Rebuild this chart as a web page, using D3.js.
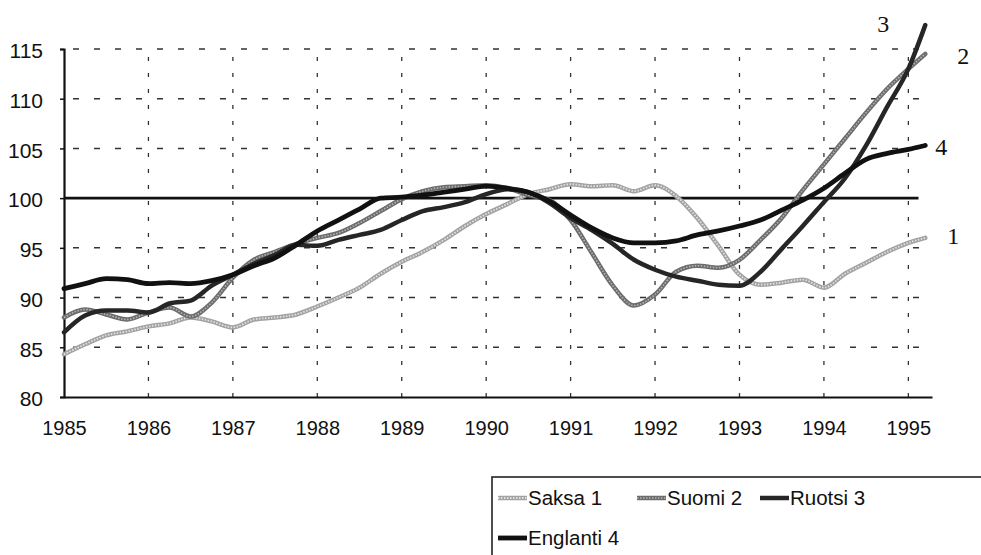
<!DOCTYPE html>
<html>
<head>
<meta charset="utf-8">
<script src="https://cdn.jsdelivr.net/npm/d3@7"></script>
<style>
  html, body { margin: 0; padding: 0; background: #fff; }
  svg { display: block; }
  .tick-label { font-family: "Liberation Sans", Arial, sans-serif; font-size: 20px; fill: #111; }
  .legend-text { font-family: "Liberation Sans", Arial, sans-serif; font-size: 20.5px; fill: #111; }
  .end-label { font-family: "Liberation Serif", "Times New Roman", serif; font-size: 24px; fill: #111; }
</style>
</head>
<body>
<div id="container"></div>
<script>
// quarterly time points (decimal years), last point is the final reading
const times = [1985.0, 1985.25, 1985.5, 1985.75, 1986.0, 1986.25, 1986.5, 1986.75,
  1987.0, 1987.25, 1987.5, 1987.75, 1988.0, 1988.25, 1988.5, 1988.75,
  1989.0, 1989.25, 1989.5, 1989.75, 1990.0, 1990.25, 1990.5, 1990.75,
  1991.0, 1991.25, 1991.5, 1991.75, 1992.0, 1992.25, 1992.5, 1992.75,
  1993.0, 1993.25, 1993.5, 1993.75, 1994.0, 1994.25, 1994.5, 1994.75,
  1995.0, 1995.2];

const saksa = [84.3, 85.3, 86.2, 86.6, 87.1, 87.4, 88.0, 87.6,
  87.0, 87.8, 88.0, 88.3, 89.1, 90.0, 91.0, 92.4,
  93.6, 94.6, 95.8, 97.2, 98.4, 99.4, 100.4, 100.9,
  101.4, 101.2, 101.3, 100.7, 101.3, 100.2, 98.0, 95.2,
  92.3, 91.3, 91.5, 91.8, 91.0, 92.4, 93.5, 94.6,
  95.5, 96.0];

const suomi = [88.0, 88.8, 88.3, 87.8, 88.5, 89.0, 88.1, 89.5,
  92.0, 93.8, 94.6, 95.4, 96.0, 96.5, 97.5, 98.7,
  99.9, 100.7, 101.1, 101.2, 101.3, 101.0, 100.3, 99.8,
  97.8, 94.5, 91.2, 89.2, 90.3, 92.6, 93.2, 93.0,
  93.8, 95.8, 98.0, 100.8, 103.4, 106.0, 108.6, 111.0,
  113.0, 114.5];

const ruotsi = [86.5, 88.2, 88.7, 88.7, 88.5, 89.4, 89.7, 91.2,
  92.3, 93.4, 94.3, 95.3, 95.2, 95.8, 96.3, 96.8,
  97.8, 98.7, 99.1, 99.6, 100.4, 100.9, 100.6, 99.5,
  98.0, 96.8, 95.4, 93.8, 92.8, 92.1, 91.7, 91.3,
  91.2, 92.6, 94.9, 97.2, 99.6, 102.0, 105.3, 109.2,
  113.0, 117.4];

const englanti = [90.9, 91.4, 91.9, 91.8, 91.4, 91.5, 91.4, 91.7,
  92.3, 93.2, 94.0, 95.3, 96.7, 97.8, 98.9, 100.0,
  100.1, 100.3, 100.6, 100.9, 101.2, 101.0, 100.6, 99.7,
  98.3, 97.0, 96.0, 95.5, 95.5, 95.7, 96.3, 96.7,
  97.2, 97.8, 98.8, 99.8, 101.0, 102.5, 103.9, 104.5,
  104.9, 105.3];

const yearTicks = [1985, 1986, 1987, 1988, 1989, 1990, 1991, 1992, 1993, 1994, 1995];
const valueTicks = [80, 85, 90, 95, 100, 105, 110, 115];
const seriesNames = ['Saksa 1', 'Suomi 2', 'Ruotsi 3', 'Englanti 4'];
const endLabels = ['1', '2', '3', '4'];

const width = 981, height = 555;
const svg = d3.select('#container').append('svg')
  .attr('width', width)
  .attr('height', height);

const x = d3.scaleLinear().domain([1985, 1995.28]).range([64, 932]);
const y = d3.scaleLinear().domain([80, 115]).range([397, 49]);

// dashed grid
svg.append('g')
  .selectAll('line')
  .data(valueTicks.filter(v => v !== 80 && v !== 100))
  .enter().append('line')
  .attr('x1', x(1985)).attr('x2', x(1995.28))
  .attr('y1', d => y(d)).attr('y2', d => y(d))
  .attr('stroke', '#333').attr('stroke-width', 1.5)
  .attr('stroke-dasharray', '6,15')
  .attr('stroke-dashoffset', -9);

svg.append('g')
  .selectAll('line')
  .data(yearTicks.slice(1))
  .enter().append('line')
  .attr('x1', d => x(d)).attr('x2', d => x(d))
  .attr('y1', y(115)).attr('y2', y(80))
  .attr('stroke', '#333').attr('stroke-width', 1.3)
  .attr('stroke-dasharray', '4,12')
  .attr('stroke-dashoffset', -8);

// axes
const xAxis = d3.axisBottom(x).tickValues(yearTicks).tickFormat(d3.format('d')).tickSize(0).tickPadding(23);
const yAxis = d3.axisLeft(y).tickValues(valueTicks).tickSize(4).tickPadding(17);

const gx = svg.append('g').attr('transform', `translate(0,${y(80)})`).call(xAxis);
gx.select('.domain').attr('stroke', '#111').attr('stroke-width', 2.2);
gx.selectAll('text').attr('class', 'tick-label').attr('dy', '0.75em');

const gy = svg.append('g').attr('transform', `translate(${x(1985)},0)`).call(yAxis);
gy.select('.domain').attr('stroke', '#111').attr('stroke-width', 2.2);
gy.selectAll('.tick line').attr('stroke', '#111').attr('stroke-width', 1.5);
gy.selectAll('text').attr('class', 'tick-label').attr('dy', '0.42em').attr('text-anchor', 'end');
gx.selectAll('.tick-label').style('font-family', '"Liberation Sans", Arial, sans-serif').style('font-size', '20px');
gy.selectAll('.tick-label').style('font-family', '"Liberation Sans", Arial, sans-serif').style('font-size', '21px');

// reference line at 100
svg.append('line')
  .attr('x1', x(1985)).attr('x2', x(1995.12))
  .attr('y1', y(100)).attr('y2', y(100))
  .attr('stroke', '#111').attr('stroke-width', 2.6);

// series: textured greys for 1 and 2, near-black for 3 and 4
const styles = [
  { base: '#a2a2a2', over: '#e2e2e2', w: 4.5, ow: 1.8, texture: true },
  { base: '#6c6c6c', over: '#b4b4b4', w: 4.5, ow: 1.6, texture: true },
  { base: '#262626', over: null, w: 4.5, texture: false },
  { base: '#111', over: null, w: 4.8, texture: false }
];
const seriesValues = [saksa, suomi, ruotsi, englanti];
const endOffsets = [[22, 6], [32, 10], [-48, 7], [10, 10]];

const line = d3.line()
  .x(d => x(d[0]))
  .y(d => y(d[1]))
  .curve(d3.curveMonotoneX);

const gLines = svg.append('g');
seriesValues.forEach((vals, i) => {
  const pts = times.map((t, k) => [t, vals[k]]);
  const st = styles[i];
  gLines.append('path')
    .attr('d', line(pts))
    .attr('fill', 'none')
    .attr('stroke', st.base)
    .attr('stroke-width', st.w)
    .attr('stroke-linejoin', 'round')
    .attr('stroke-linecap', 'round');
  if (st.texture) {
    gLines.append('path')
      .attr('d', line(pts))
      .attr('fill', 'none')
      .attr('stroke', st.over)
      .attr('stroke-width', st.ow)
      .attr('stroke-dasharray', '1.5,1.5');
  }
  const last = pts[pts.length - 1];
  svg.append('text')
    .attr('class', 'end-label')
    .attr('x', x(last[0]) + endOffsets[i][0])
    .attr('y', y(last[1]) + endOffsets[i][1])
    .text(endLabels[i]);
});

// legend
const legend = svg.append('g');
legend.append('rect')
  .attr('x', 492).attr('y', 477)
  .attr('width', 520).attr('height', 100)
  .attr('fill', 'none').attr('stroke', '#222').attr('stroke-width', 1.6);

const legendPos = [[498, 498], [637, 498], [760, 498], [498, 538]];
seriesNames.forEach((name, i) => {
  const [lx, ly] = legendPos[i];
  const st = styles[i];
  legend.append('line')
    .attr('x1', lx).attr('x2', lx + 29)
    .attr('y1', ly).attr('y2', ly)
    .attr('stroke', st.base).attr('stroke-width', st.w);
  if (st.texture) {
    legend.append('line')
      .attr('x1', lx).attr('x2', lx + 29)
      .attr('y1', ly).attr('y2', ly)
      .attr('stroke', st.over).attr('stroke-width', st.ow)
      .attr('stroke-dasharray', '1.5,1.5');
  }
  legend.append('text')
    .attr('class', 'legend-text')
    .attr('x', lx + 30)
    .attr('y', ly + 7)
    .text(name);
});
</script>
</body>
</html>
